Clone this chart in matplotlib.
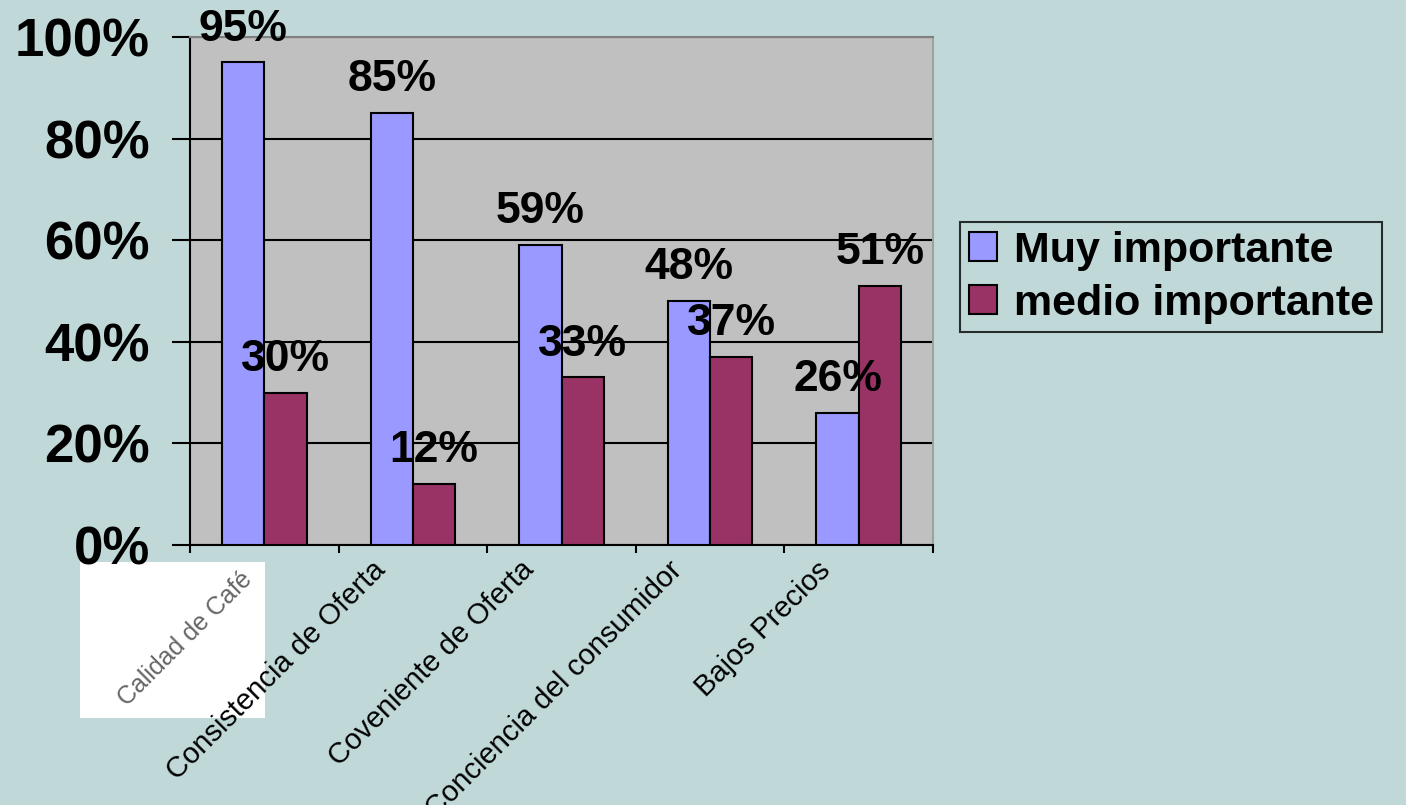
import matplotlib
matplotlib.use("Agg")
import matplotlib.pyplot as plt
import matplotlib.transforms as mtransforms
from matplotlib.patches import Rectangle
import numpy as np

categories = ["Calidad de Café", "Consistencia de Oferta", "Coveniente de Oferta",
              "Conciencia del consumidor", "Bajos Precios"]
series_names = ["Muy importante", "medio importante"]
muy_importante = [95, 85, 59, 48, 26]
medio_importante = [30, 12, 33, 37, 51]
y_ticks = [0, 20, 40, 60, 80, 100]

BG = "#c0d9d8"
PLOT_BG = "#c0c0c0"
C1 = "#9999ff"
C2 = "#993366"

plt.rcParams['font.family'] = ['Liberation Sans', 'DejaVu Sans']

fig = plt.figure(figsize=(14.06, 8.05), dpi=100)
fig.patch.set_facecolor(BG)

W, H = 1406, 805
ax = fig.add_axes([190 / W, 1 - 545 / H, (933 - 190) / W, (545 - 37) / H])
ax.set_facecolor(PLOT_BG)

x = np.arange(len(categories))
bw = 0.285
b1 = ax.bar(x - bw / 2, muy_importante, bw, color=C1, edgecolor="black", linewidth=1.5, zorder=3,
            label=series_names[0])
b2 = ax.bar(x + bw / 2, medio_importante, bw, color=C2, edgecolor="black", linewidth=1.5, zorder=3,
            label=series_names[1])

for bars, vals in ((b1, muy_importante), (b2, medio_importante)):
    for rect, v in zip(bars, vals):
        ax.annotate(f"{v}%", (rect.get_x() + rect.get_width() / 2, v),
                    xytext=(0, 24), textcoords="offset points",
                    ha="center", va="center", fontsize=32, fontweight="bold",
                    color="black", zorder=5, annotation_clip=False)

ax.set_xlim(-0.5, len(categories) - 0.5)
ax.set_ylim(0, 100)
ax.set_yticks(y_ticks)
ax.set_yticklabels([f"{t}%" for t in y_ticks], fontsize=38, fontweight="bold")
ax.yaxis.grid(True, color="black", linewidth=1.5, zorder=1)
ax.set_axisbelow(True)
ax.tick_params(axis="y", length=13, width=1.5, pad=16, color="black")

# category boundaries as minor ticks, labels at centres
ax.set_xticks(np.arange(len(categories) + 1) - 0.5, minor=True)
ax.tick_params(axis="x", which="minor", length=6, width=1.5, direction="out")
ax.set_xticks(x)
ax.set_xticklabels(categories, rotation=45, ha="right", rotation_mode="anchor", fontsize=21)
ax.tick_params(axis="x", which="major", length=0, pad=12)
offset = mtransforms.ScaledTranslation(-42 / 100, 6 / 100, fig.dpi_scale_trans)
offset_first = mtransforms.ScaledTranslation(-24 / 100, -6 / 100, fig.dpi_scale_trans)
for i, lab in enumerate(ax.get_xticklabels()):
    if i == 0:
        lab.set_transform(lab.get_transform() + offset_first)
        lab.set_color("#666666")
        lab.set_fontsize(18)
    else:
        lab.set_transform(lab.get_transform() + offset)

# white box behind first category label
fig.patches.append(Rectangle((80 / W, 1 - 718 / H), 185 / W, 156 / H,
                             transform=fig.transFigure, facecolor="white",
                             edgecolor="none", zorder=-1))

for s in ("left", "bottom"):
    ax.spines[s].set_color("black")
    ax.spines[s].set_linewidth(1.5)
ax.spines["top"].set_color("#808080")
ax.spines["top"].set_linewidth(1.5)
ax.spines["right"].set_color("#a0a0a0")
ax.spines["right"].set_linewidth(1.5)

leg = fig.legend(handles=[b1, b2], labels=series_names, loc="upper left",
                 bbox_to_anchor=(960 / W, 1 - 222 / H), bbox_transform=fig.transFigure,
                 prop={"weight": "bold", "size": 31}, frameon=True,
                 fancybox=False, handlelength=0.65, handleheight=0.65,
                 handletextpad=0.4, borderpad=0.2, labelspacing=0.3, borderaxespad=0)
leg.get_frame().set_facecolor("none")
leg.get_frame().set_edgecolor("black")
leg.get_frame().set_linewidth(1.5)

fig.savefig("out.png", dpi=100, facecolor=BG)
